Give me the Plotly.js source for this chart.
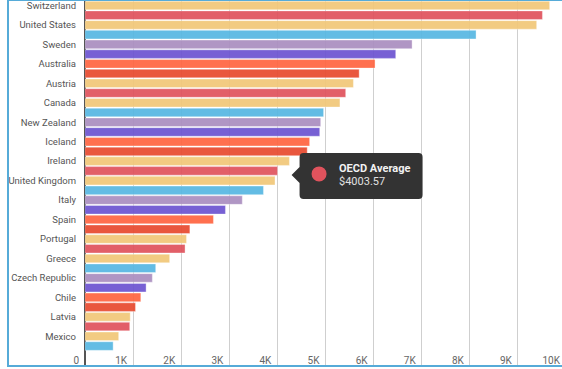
<!DOCTYPE html>
<html>
<head>
<meta charset="utf-8">
<script src="https://cdn.plot.ly/plotly-3.0.1.min.js"></script>
<style>
  html, body { margin: 0; padding: 0; overflow: hidden; background: #fff; width: 562px; height: 369px; }
  #frame { position: absolute; left: 7px; top: -1px; width: 620px; height: 368px; border: 2px solid #56ABD8; box-sizing: border-box; z-index: 5; pointer-events: none; }
  #chart { position: absolute; left: 0; top: 0; width: 580px; height: 369px; z-index: 1; }
</style>
</head>
<body>
<div id="chart"></div>
<div id="frame"></div>
<script>
// Categories top to bottom (labels shown only on every other bar)
const countries = [
  'Switzerland', 'Norway', 'United States', 'Luxembourg', 'Sweden', 'Germany',
  'Australia', 'Netherlands', 'Austria', 'Denmark', 'Canada', 'Belgium',
  'New Zealand', 'France', 'Iceland', 'Japan', 'Ireland', 'OECD Average',
  'United Kingdom', 'Finland', 'Italy', 'Slovenia', 'Spain', 'Israel',
  'Portugal', 'Korea', 'Greece', 'Slovak Republic', 'Czech Republic', 'Hungary',
  'Chile', 'Estonia', 'Latvia', 'Poland', 'Mexico', 'Turkey'
];
const spending = [
  9660, 9510, 9390, 8130, 6800, 6460,
  6030, 5700, 5580, 5420, 5300, 4960,
  4900, 4880, 4670, 4620, 4250, 4003.57,
  3950, 3710, 3270, 2920, 2670, 2180,
  2110, 2080, 1760, 1470, 1400, 1270,
  1160, 1050, 940, 930, 700, 585
];
const shownLabels = [
  'Switzerland', 'United States', 'Sweden', 'Australia', 'Austria', 'Canada',
  'New Zealand', 'Iceland', 'Ireland', 'United Kingdom', 'Italy', 'Spain',
  'Portugal', 'Greece', 'Czech Republic', 'Chile', 'Latvia', 'Mexico'
];
const xTickVals = [0, 1000, 2000, 3000, 4000, 5000, 6000, 7000, 8000, 9000, 10000];
const xTickText = ['0', '1K', '2K', '3K', '4K', '5K', '6K', '7K', '8K', '9K', '10K'];
const palette = ['#F2C879', '#E0535D', '#F2C879', '#58B8E2', '#AB8FC0', '#6D55D1', '#FF6642', '#E84B30'];
const tooltipCategory = 'OECD Average';

const barColors = countries.map((c, i) => palette[i % palette.length]);
const tipIndex = countries.indexOf(tooltipCategory);
const tipValue = spending[tipIndex];

const trace = {
  type: 'bar',
  orientation: 'h',
  y: countries,
  x: spending,
  marker: {
    color: barColors,
    opacity: 0.93,
    line: { color: 'rgba(255,255,255,0.35)', width: 1 }
  },
  hoverinfo: 'none'
};

const layout = {
  width: 580,
  height: 369,
  margin: { l: 85, r: 14, t: 0, b: 3, pad: 0 },
  paper_bgcolor: 'rgba(0,0,0,0)',
  plot_bgcolor: 'rgba(0,0,0,0)',
  font: { family: 'Roboto, "Open Sans", sans-serif', color: '#555', size: 10 },
  bargap: 0.12,
  showlegend: false,
  xaxis: {
    range: [0, 10000],
    tickvals: xTickVals,
    ticktext: xTickText,
    ticklabelposition: 'inside left',
    ticklabeloverflow: 'allow',
    ticklabelshift: -6,
    ticklabelstandoff: -6,
    showgrid: true,
    gridcolor: '#cfcfcf',
    gridwidth: 1,
    zeroline: true,
    zerolinecolor: '#555',
    zerolinewidth: 2,
    showline: false,
    ticks: '',
    tickfont: { size: 10, color: '#666' },
    fixedrange: true
  },
  yaxis: {
    type: 'category',
    categoryorder: 'array',
    categoryarray: countries,
    range: [37.05, -0.56],
    tickvals: shownLabels,
    ticktext: shownLabels,
    ticks: '',
    ticklabelstandoff: 8,
    showgrid: false,
    zeroline: false,
    showline: false,
    tickfont: { size: 9.5, color: '#555' },
    fixedrange: true
  },
  shapes: [
    {
      type: 'path',
      xref: 'x', yref: 'y',
      xsizemode: 'pixel', ysizemode: 'pixel',
      xanchor: tipValue, yanchor: tooltipCategory,
      path: 'M 22,4 L 14,-4 L 22,-12 L 22,-24 Q 22,-28 26,-28 L 141,-28 Q 145,-28 145,-24 L 145,14 Q 145,18 141,18 L 26,18 Q 22,18 22,14 Z',
      fillcolor: '#333333',
      line: { width: 0 },
      layer: 'above'
    },
    {
      type: 'circle',
      xref: 'x', yref: 'y',
      xsizemode: 'pixel', ysizemode: 'pixel',
      xanchor: tipValue, yanchor: tooltipCategory,
      x0: 34, x1: 49, y0: -10.5, y1: 4.5,
      fillcolor: palette[1],
      line: { width: 0 },
      layer: 'above'
    }
  ],
  annotations: [
    {
      xref: 'x', yref: 'y',
      x: tipValue, y: tooltipCategory,
      xanchor: 'left', yanchor: 'middle',
      xshift: 59, yshift: 2,
      showarrow: false,
      text: '<b>' + tooltipCategory + '</b>',
      font: { size: 11, color: '#f2f2f2', family: 'Roboto, sans-serif' }
    },
    {
      xref: 'x', yref: 'y',
      x: tipValue, y: tooltipCategory,
      xanchor: 'left', yanchor: 'middle',
      xshift: 59, yshift: -11,
      showarrow: false,
      text: '$' + tipValue.toFixed(2),
      font: { size: 11, color: '#e0e0e0', family: 'Roboto, sans-serif' }
    }
  ]
};

Plotly.newPlot('chart', [trace], layout, { displayModeBar: false, staticPlot: true });
</script>
</body>
</html>
